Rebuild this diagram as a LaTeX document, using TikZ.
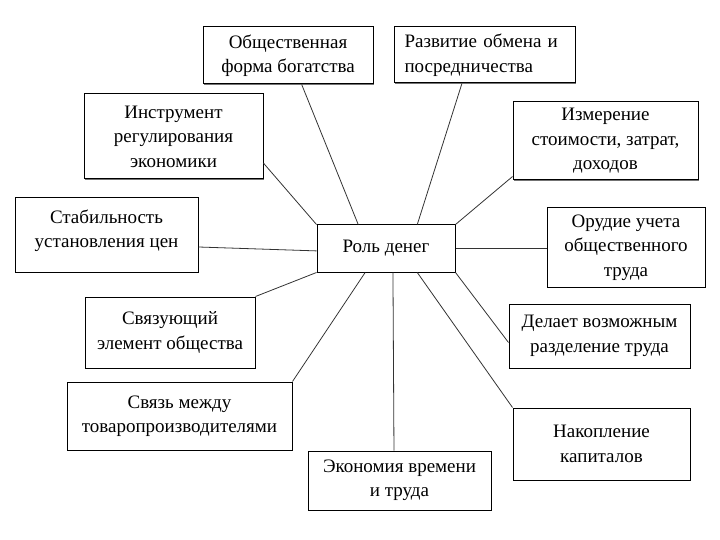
\documentclass[tikz,border=0pt]{standalone}
\usepackage{fontspec}
\setmainfont{Liberation Serif}
\usetikzlibrary{calc,shadows}

\tikzset{
  box/.style={draw, line width=1pt, fill=white, inner sep=0pt, align=center,
    font=\fontsize{19}{24.5}\selectfont,
    drop shadow={shadow xshift=1.3pt, shadow yshift=-1.3pt, fill=black!55, opacity=1}},
  link/.style={draw=black!80, line width=0.8pt}
}

\begin{document}
\begin{tikzpicture}[x=1pt,y=-1pt]
\useasboundingbox (0,0) rectangle (720,540);
% boxes
\node[box, minimum width=138pt, minimum height=47pt] (rol) at (386,248.5) {Роль денег};
\node[box, minimum width=170pt, minimum height=57pt] (obsh) at (288,55.5) {Общественная\\форма богатства};
\node[box, minimum width=181pt, minimum height=56pt, text width=160pt, align=left] (razv) at (484.5,55) {Развитие обмена и\\посредничества};
\node[box, minimum width=179pt, minimum height=85pt] (instr) at (173.5,136.5) {Инструмент\\регулирования\\экономики};
\node[box, minimum width=185pt, minimum height=78pt] (izm) at (605.5,141) {Измерение\\стоимости, затрат,\\доходов};
\node[box, minimum width=183pt, minimum height=74pt] (stab) at (106.5,235) {Стабильность\\установления цен\\[-12pt]\mbox{}};
\node[box, minimum width=158pt, minimum height=79pt] (orud) at (626,247.5) {Орудие учета\\общественного\\труда};
\node[box, minimum width=170pt, minimum height=71pt] (svyaz) at (170,332.5) {Связующий\\элемент общества};
\node[box, minimum width=181pt, minimum height=64pt] (delaet) at (599.5,336) {Делает возможным\\разделение труда};
\node[box, minimum width=225pt, minimum height=68pt] (tovar) at (179.5,416) {Связь между\\товаропроизводителями};
\node[box, minimum width=177pt, minimum height=72pt] (nakop) at (601.5,444) {Накопление\\капиталов};
\node[box, minimum width=183pt, minimum height=59pt] (ekon) at (399.5,480.5) {Экономия времени\\и труда};
% links
\draw[link] ($(obsh.south west)!0.58!(obsh.south east)$) -- ($(rol.north west)!0.30!(rol.north east)$);
\draw[link] ($(razv.south west)!0.376!(razv.south east)$) -- ($(rol.north west)!0.725!(rol.north east)$);
\draw[link] ($(instr.north east)!0.81!(instr.south east)$) -- (rol.north west);
\draw[link] ($(izm.north west)!0.95!(izm.south west)$) -- (rol.north east);
\draw[link] ($(stab.north east)!0.66!(stab.south east)$) -- ($(rol.north west)!0.55!(rol.south west)$);
\draw[link] (rol.east) -- (rol.east -| orud.west);
\draw[link] (svyaz.north east) -- (rol.south west);
\draw[link] (tovar.north east) -- ($(rol.south west)!0.35!(rol.south east)$);
\draw[link] ($(ekon.north west)!0.47!(ekon.north east)$) -- ($(rol.south west)!0.55!(rol.south east)$);
\draw[link] (nakop.north west) -- ($(rol.south west)!0.725!(rol.south east)$);
\draw[link] ($(delaet.north west)!0.6!(delaet.south west)$) -- (rol.south east);
\end{tikzpicture}
\end{document}
